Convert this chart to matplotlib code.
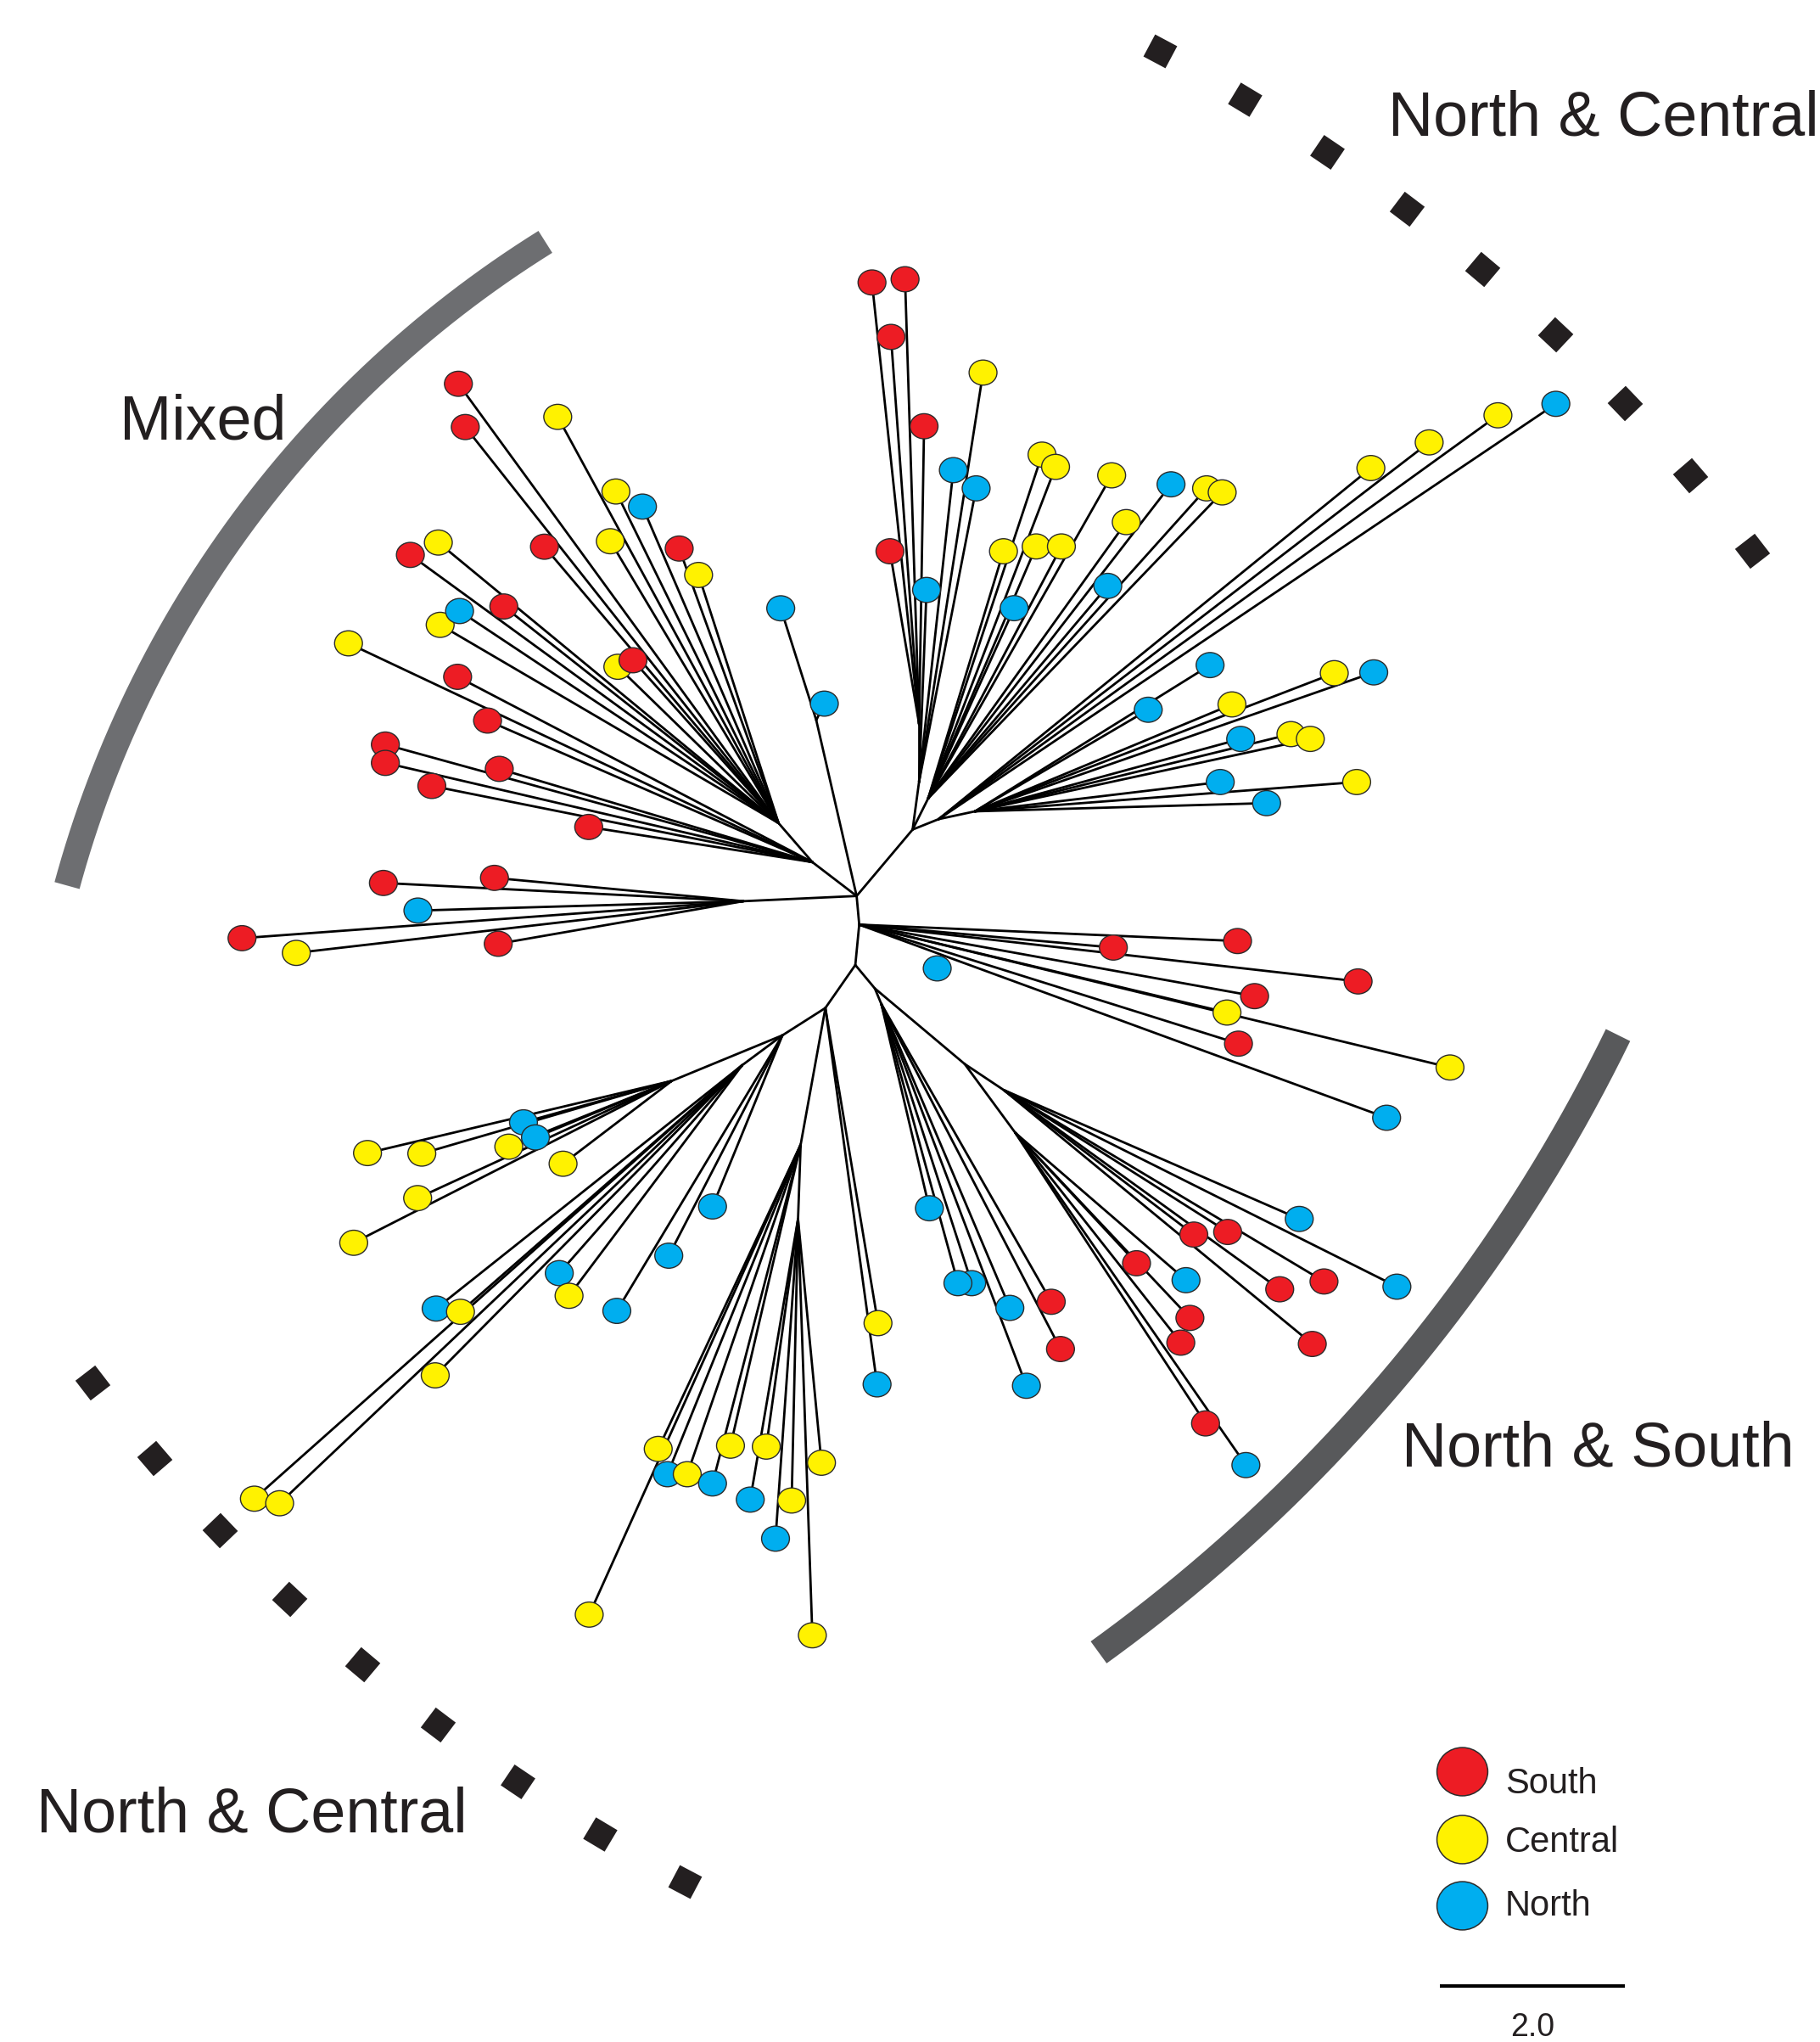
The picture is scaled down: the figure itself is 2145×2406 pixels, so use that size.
import numpy as np
import matplotlib
matplotlib.use("Agg")
import matplotlib.pyplot as plt
from matplotlib.path import Path
from matplotlib.transforms import Affine2D
from matplotlib.collections import LineCollection

# ---------------- data (reference picture units) ----------------
# internal nodes of the unrooted tree
node_id = ['A', 'B', 'C', 'D', 'D1', 'D2', 'Dm', 'Dr', 'Dr1', 'E', 'E2', 'F', 'P',
           'H', 'H2', 'K', 'K1', 'K2', 'G', 'Bt', 'Bt2', 'L', 'L1', 'L2']
node_x = [658, 660, 657, 701, 706, 706, 713, 721, 749, 624, 598, 571, 627,
          672, 677, 741, 771, 780, 634, 615, 613, 601, 516, 570]
node_y = [688, 710, 741, 637, 600, 556, 613, 629, 623, 662, 632, 692, 553,
          759, 771, 817, 837, 870, 774, 879, 936, 795, 830, 818]
node_parent = [None, 'A', 'B', 'A', 'D', 'D1', 'D', 'D', 'Dr', 'A', 'E', 'A', 'A',
               'C', 'H', 'H', 'K', 'K', 'C', 'G', 'Bt', 'G', 'L', 'L']

# leaves (samples)
leaf_x = [669.8, 695.2, 684.4, 709.8, 683.6,
          711.7, 732.3, 749.8, 755.1,
          800.4, 810.8, 853.9, 899.5, 926.8, 938.8, 865.1, 770.8, 795.9, 815.3, 779.0, 850.9,
          1053.0, 1097.8, 1150.6, 1195.1,
          929.5, 1024.9, 1055.2, 882.0, 946.3, 953.0, 991.6, 1006.5, 937.3, 1042.1, 972.9,
          855.2, 950.6, 1043.2, 963.7, 942.5, 951.3, 1113.8, 1065.1,
          719.9,
          713.9, 746.4, 735.8, 775.7, 807.5, 814.6, 788.4,
          998.0, 1073.0, 1017.0, 983.0, 943.0, 917.0, 1008.0,
          873.0, 911.0, 914.0, 907.0, 926.0, 957.0,
          674.4, 673.7,
          505.6, 512.7, 527.9, 547.3, 561.1, 452.6,
          588.6, 631.0, 576.3, 608.1, 595.7, 624.0,
          282.3, 324.0, 390.8, 402.1, 411.3, 432.5, 320.8, 271.7,
          335.0, 353.7, 334.3, 195.4, 214.8, 429.6, 437.1,
          547.3, 513.7, 473.8,
          352.1, 357.4, 428.4, 418.2, 315.2, 336.7, 387.0, 338.1, 353.0, 473.1, 493.5, 468.8,
          521.7, 536.6, 474.6, 486.2,
          267.7, 351.5, 374.5, 296.0, 296.0, 383.5, 331.7, 452.2,
          294.5, 379.8, 321.0, 185.9, 227.6, 382.7,
          599.7, 633.2]
leaf_y = [216.9, 214.4, 258.7, 327.3, 423.3,
          453.0, 361.0, 375.0, 286.1,
          349.1, 358.5, 365.0, 371.9, 375.0, 378.1, 400.9, 423.3, 419.6, 419.6, 467.0, 449.9,
          359.4, 339.7, 318.9, 310.1,
          510.7, 516.9, 516.3, 545.0, 540.9, 567.4, 563.7, 567.4, 600.5, 600.5, 616.7,
          727.6, 722.6, 753.6, 764.9, 777.5, 801.4, 819.7, 858.3,
          743.6,
          927.8, 985.3, 985.3, 1004.3, 999.6, 1035.9, 1064.1,
          936.0, 988.0, 984.0, 990.0, 946.0, 948.0, 1032.0,
          970.0, 983.0, 1012.0, 1031.0, 1093.0, 1125.0,
          1016.0, 1063.0,
          1112.6, 1132.0, 1132.0, 1139.1, 1110.1, 1239.8,
          1110.8, 1123.2, 1151.5, 1152.2, 1181.5, 1255.7,
          885.4, 885.8, 880.5, 861.8, 873.4, 893.6, 920.0, 954.3,
          1004.8, 1007.3, 1056.1, 1150.8, 1154.3, 977.6, 995.0,
          926.4, 964.2, 1006.6,
          294.7, 327.9, 320.1, 419.8, 426.1, 416.6, 465.7, 479.8, 469.2, 377.4, 389.0, 415.6,
          421.2, 441.5, 512.0, 507.0,
          494.0, 519.7, 553.3, 571.7, 585.8, 590.4, 603.5, 635.0,
          678.0, 674.1, 699.2, 720.4, 731.7, 724.7,
          467.1, 540.3]
leaf_region = (['South'] * 5 +
               ['North', 'North', 'North', 'Central'] +
               ['Central', 'Central', 'Central', 'North', 'Central', 'Central', 'Central',
                'Central', 'Central', 'Central', 'North', 'North'] +
               ['Central', 'Central', 'Central', 'North'] +
               ['North', 'Central', 'North', 'North', 'Central', 'North', 'Central', 'Central',
                'North', 'Central', 'North'] +
               ['South', 'South', 'South', 'South', 'Central', 'South', 'Central', 'North'] +
               ['North'] +
               ['North', 'North', 'North', 'North', 'South', 'South', 'North'] +
               ['North', 'North', 'South', 'South', 'South', 'South', 'South'] +
               ['South', 'North', 'South', 'South', 'South', 'North'] +
               ['Central', 'North'] +
               ['Central', 'North', 'Central', 'North', 'Central', 'Central'] +
               ['Central', 'Central', 'North', 'Central', 'North', 'Central'] +
               ['Central', 'Central', 'Central', 'North', 'North', 'Central', 'Central', 'Central'] +
               ['North', 'Central', 'Central', 'Central', 'Central', 'North', 'Central'] +
               ['North', 'North', 'North'] +
               ['South', 'South', 'Central', 'South', 'South', 'Central', 'South', 'Central',
                'North', 'Central', 'North', 'Central', 'South', 'Central', 'Central', 'South'] +
               ['Central', 'South', 'South', 'South', 'South', 'South', 'South', 'South'] +
               ['South', 'South', 'North', 'South', 'Central', 'South'] +
               ['North', 'North'])
leaf_parent = (['D2'] * 5 + ['D1'] * 4 + ['Dm'] * 12 + ['Dr'] * 4 + ['Dr1'] * 11 +
               ['B'] * 8 + [None] + ['H2'] * 7 + ['K1'] * 7 + ['K2'] * 6 + ['G'] * 2 +
               ['Bt'] * 6 + ['Bt2'] * 6 + ['L1'] * 8 + ['L2'] * 7 + ['L'] * 3 +
               ['E2'] * 16 + ['E'] * 8 + ['F'] * 6 + ['P'] * 2)

region_names = ['South', 'Central', 'North']
region_colors = ['#ED1C24', '#FFF200', '#00AEEF']
cluster_labels = ['North & Central', 'Mixed', 'North & South', 'North & Central']
scale_label = '2.0'

# ---------------- figure ----------------
W, H = 1398, 1568
fig = plt.figure(figsize=(21.45, 24.06), dpi=100)
fig.patch.set_facecolor('white')
ax = fig.add_axes([0, 0, 1, 1])
ax.set_xlim(0, W)
ax.set_ylim(H, 0)
ax.axis('off')

FONT = 'Liberation Sans'
TXT = '#231f20'

# tree branches
pos = {n: (x, y) for n, x, y in zip(node_id, node_x, node_y)}
segs = []
for n, p in zip(node_id, node_parent):
    if p:
        segs.append([pos[p], pos[n]])
for x, y, p in zip(leaf_x, leaf_y, leaf_parent):
    if p:
        segs.append([pos[p], (x, y)])
ax.add_collection(LineCollection(segs, colors='black', linewidths=2.0,
                                 capstyle='round', joinstyle='round', zorder=2))

# leaves
cmap = dict(zip(region_names, region_colors))
leaf_marker = Path.unit_circle().transformed(Affine2D().scale(1.0, 0.9))
ax.scatter(leaf_x, leaf_y, s=560, marker=leaf_marker,
           c=[cmap[r] for r in leaf_region], edgecolors='#2b2b2b',
           linewidths=1.0, zorder=3)

# grey cluster arcs
def arc(cx, cy, r, t0, t1, **kw):
    t = np.radians(np.linspace(t0, t1, 300))
    ax.plot(cx + r * np.cos(t), cy + r * np.sin(t), solid_capstyle='butt', **kw)

arc(865, 901, 843, -121.95, -164.8, color='#6d6e71', lw=22, zorder=1)
arc(99.5, 237.4, 1272, 25.99, 54.18, color='#58595b', lw=23, zorder=1)

# dotted (diamond) cluster arcs
def diamonds(cx, cy, r, t0, t1, n):
    for t in np.radians(np.linspace(t0, t1, n)):
        x, y = cx + r * np.cos(t), cy + r * np.sin(t)
        phi = np.degrees(np.arctan2(-np.cos(t), -np.sin(t)))
        ax.plot([x], [y], linestyle='none', marker=(4, 0, 45 + phi), ms=30,
                color='#231f20', mec='none', zorder=1)

diamonds(223.5, 1291.4, 1419.2, -61.94, -37.73, 9)
diamonds(1176.2, 210.8, 1394.7, 142.40, 117.78, 9)

# cluster labels
label_pos = [(1066, 104), (92, 337), (1077, 1126), (28, 1407)]
for (x, y), s in zip(label_pos, cluster_labels):
    ax.text(x, y, s, fontsize=53, family=FONT, color=TXT, ha='left', va='baseline')

# legend
leg_marker = Path.unit_circle().transformed(Affine2D().scale(1.0, 0.95))
leg_cy = [1360, 1412, 1463]
leg_ty = [1377, 1422, 1471]
for name, col, cy, ty in zip(region_names, region_colors, leg_cy, leg_ty):
    ax.scatter([1123], [cy], s=1860, marker=leg_marker, c=col,
               edgecolors='#2b2b2b', linewidths=1.1, zorder=3)
    ax.text(1156, ty, name, fontsize=30, family=FONT, color=TXT,
            ha='left', va='baseline')

# scale bar
ax.plot([1106, 1248], [1525, 1525], color='black', lw=2.9, solid_capstyle='butt')
ax.text(1177, 1545, scale_label, fontsize=27, family=FONT, color=TXT,
        ha='center', va='top')

fig.savefig('out.png', dpi=100, facecolor='white')
